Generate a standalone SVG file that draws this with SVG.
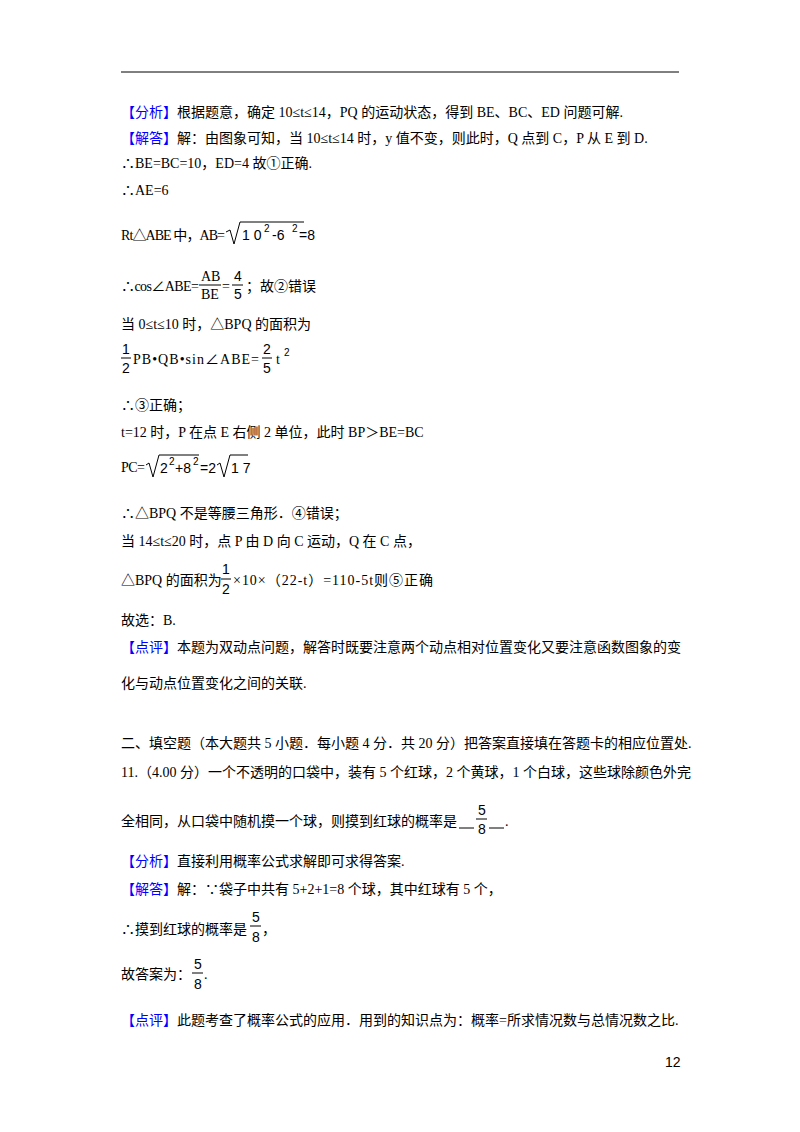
<svg xmlns="http://www.w3.org/2000/svg" width="800" height="1132" viewBox="0 0 800 1132">
<style>
text{font-family:"Liberation Serif","Noto Sans CJK SC",serif;font-size:14px;fill:#000}
.b{fill:#0000ff}
.s{font-family:"Liberation Sans","Noto Sans CJK SC",sans-serif}
.sm{font-size:10px}
</style>
<rect width="800" height="1132" fill="#fff"/>
<line x1="121" y1="72" x2="679" y2="72" stroke="#000" stroke-width="1"/>
<text x="121" y="117"><tspan class="b">【分析】</tspan>根据题意，确定 10≤t≤14，PQ 的运动状态，得到 BE、BC、ED 问题可解.</text>
<text x="121" y="143"><tspan class="b">【解答】</tspan>解：由图象可知，当 10≤t≤14 时，y 值不变，则此时，Q 点到 C，P 从 E 到 D.</text>
<text x="121" y="168">∴BE=BC=10，ED=4 故①正确.</text>
<text x="121" y="195">∴AE=6</text>
<text x="121" y="240" textLength="104">Rt△ABE 中，AB=</text>
<path d="M226 232 L230 230 L234 244 L240 222 L304 222" fill="none" stroke="#000"/>
<text x="242" y="240" class="s" font-size="16">1 0</text><text x="264" y="232" class="s sm">2</text><text x="272" y="240" class="s" font-size="16">-6</text><text x="292" y="232" class="s sm">2</text><text x="299" y="240" class="s" font-size="16">=8</text>
<text x="121" y="291" textLength="78">∴cos∠ABE=</text>
<text x="201" y="281" font-size="13">AB</text><line x1="199" y1="285" x2="221" y2="285" stroke="#000"/><text x="201" y="299" font-size="13">BE</text>
<text x="222" y="291">=</text>
<text x="234" y="281" class="s">4</text><line x1="232" y1="285" x2="243" y2="285" stroke="#000"/><text x="234" y="299" class="s">5</text>
<text x="246" y="291">；故②错误</text>
<text x="121" y="329">当 0≤t≤10 时，△BPQ 的面积为</text>
<text x="122" y="354" class="s">1</text><line x1="121" y1="358" x2="131" y2="358" stroke="#000"/><text x="122" y="373" class="s">2</text>
<text x="133" y="364" font-family="Liberation Mono" font-size="14" textLength="126">PB•QB•sin∠ABE=</text>
<text x="263" y="354" class="s">2</text><line x1="262" y1="358" x2="272" y2="358" stroke="#000"/><text x="263" y="373" class="s">5</text>
<text x="276" y="364">t</text><text x="284" y="356" class="s sm">2</text>
<text x="121" y="410">∴③正确；</text>
<text x="121" y="437">t=12 时，P 在点 E 右侧 2 单位，此时 BP＞BE=BC</text>
<text x="121" y="472" textLength="24">PC=</text>
<path d="M146 465 L149 463 L153 477 L159 455 L199 455" fill="none" stroke="#000"/>
<text x="160" y="473" class="s" font-size="15">2</text><text x="169" y="465" class="s sm">2</text><text x="175" y="473" class="s" font-size="15">+8</text><text x="193" y="465" class="s sm">2</text><text x="200" y="473" class="s" font-size="15">=2</text>
<path d="M217 465 L220 463 L224 477 L230 455 L248 455" fill="none" stroke="#000"/>
<text x="231" y="473" class="s" font-size="15">1 7</text>
<text x="121" y="518">∴△BPQ 不是等腰三角形．④错误；</text>
<text x="121" y="546">当 14≤t≤20 时，点 P 由 D 向 C 运动，Q 在 C 点，</text>
<text x="121" y="585">△BPQ 的面积为</text>
<text x="222" y="574" class="s">1</text><line x1="221" y1="579" x2="231" y2="579" stroke="#000"/><text x="222" y="594" class="s">2</text>
<text x="233" y="585" font-size="15" textLength="200">×10×（22-t）=110-5t则⑤正确</text>
<text x="121" y="625">故选：B.</text>
<text x="121" y="652"><tspan class="b">【点评】</tspan>本题为双动点问题，解答时既要注意两个动点相对位置变化又要注意函数图象的变</text>
<text x="121" y="688">化与动点位置变化之间的关联.</text>
<text x="121" y="748">二、填空题（本大题共 5 小题．每小题 4 分．共 20 分）把答案直接填在答题卡的相应位置处.</text>
<text x="121" y="777">11.（4.00 分）一个不透明的口袋中，装有 5 个红球，2 个黄球，1 个白球，这些球除颜色外完</text>
<text x="121" y="826">全相同，从口袋中随机摸一个球，则摸到红球的概率是</text>
<line x1="459" y1="828" x2="474" y2="828" stroke="#000"/>
<text x="478" y="815" class="s">5</text><line x1="476" y1="819" x2="487" y2="819" stroke="#000"/><text x="478" y="834" class="s">8</text>
<line x1="489" y1="828" x2="504" y2="828" stroke="#000"/><text x="505" y="826">.</text>
<text x="121" y="866"><tspan class="b">【分析】</tspan>直接利用概率公式求解即可求得答案.</text>
<text x="121" y="894"><tspan class="b">【解答】</tspan>解：∵袋子中共有 5+2+1=8 个球，其中红球有 5 个，</text>
<text x="121" y="934">∴摸到红球的概率是</text>
<text x="252" y="922" class="s">5</text><line x1="250" y1="926" x2="261" y2="926" stroke="#000"/><text x="252" y="942" class="s">8</text>
<text x="262" y="934">，</text>
<text x="121" y="979">故答案为：</text>
<text x="194" y="969" class="s">5</text><line x1="192" y1="973" x2="203" y2="973" stroke="#000"/><text x="194" y="989" class="s">8</text>
<text x="204" y="979">.</text>
<text x="121" y="1025"><tspan class="b">【点评】</tspan>此题考查了概率公式的应用．用到的知识点为：概率=所求情况数与总情况数之比.</text>
<text x="665" y="1067" class="s" font-size="12">12</text>
</svg>
